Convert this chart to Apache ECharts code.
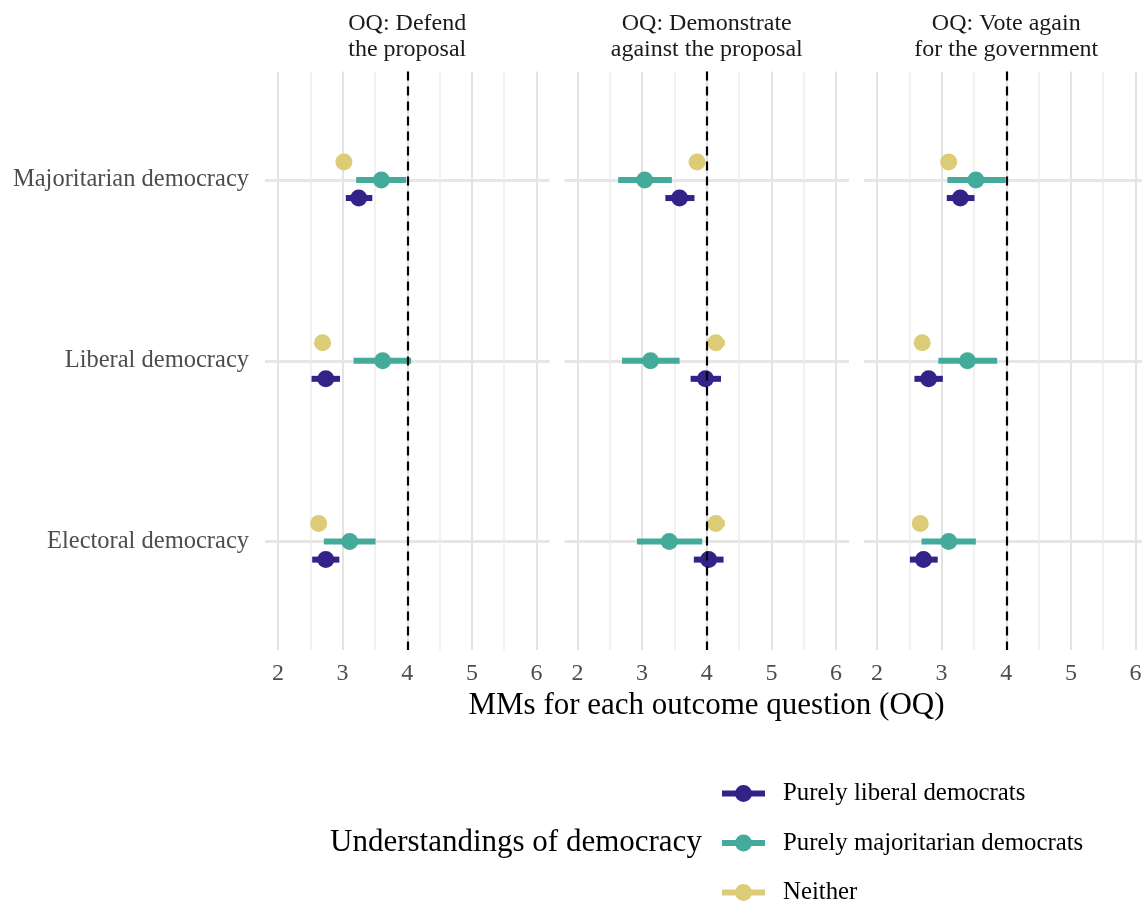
<!DOCTYPE html>
<html><head><meta charset="utf-8">
<script src="https://cdn.jsdelivr.net/npm/echarts@6/dist/echarts.min.js"></script>
<style>html,body{margin:0;padding:0;background:#fff;overflow:hidden}#c{width:1160px;height:904px}</style>
</head><body><div id="c"></div><script>
const categories = ['Majoritarian democracy', 'Liberal democracy', 'Electoral democracy'];
const panelTitles = ['OQ: Defend\nthe proposal', 'OQ: Demonstrate\nagainst the proposal', 'OQ: Vote again\nfor the government'];
const groupNames = ['Purely liberal democrats', 'Purely majoritarian democrats', 'Neither'];
const groupColors = ['#332288', '#44AA99', '#DDCC77'];
const xTicks = [2, 3, 4, 5, 6];
const xMinorTicks = [2.5, 3.5, 4.5, 5.5];
const referenceLine = 4;
// [estimate, lower, upper] for Majoritarian, Liberal, Electoral democracy
const defendLiberal = [[3.25, 3.05, 3.46], [2.74, 2.52, 2.96], [2.74, 2.53, 2.95]];
const defendMajoritarian = [[3.60, 3.21, 3.98], [3.62, 3.17, 4.06], [3.11, 2.71, 3.51]];
const defendNeither = [[3.02, 2.94, 3.10], [2.69, 2.61, 2.77], [2.63, 2.55, 2.71]];
const demonstrateLiberal = [[3.58, 3.36, 3.81], [3.98, 3.75, 4.22], [4.03, 3.80, 4.26]];
const demonstrateMajoritarian = [[3.04, 2.63, 3.46], [3.13, 2.69, 3.58], [3.42, 2.92, 3.93]];
const demonstrateNeither = [[3.85, 3.73, 3.97], [4.14, 4.00, 4.28], [4.14, 4.00, 4.28]];
const voteLiberal = [[3.29, 3.08, 3.51], [2.80, 2.58, 3.02], [2.72, 2.51, 2.94]];
const voteMajoritarian = [[3.53, 3.09, 3.99], [3.40, 2.95, 3.86], [3.11, 2.69, 3.53]];
const voteNeither = [[3.11, 3.03, 3.19], [2.70, 2.62, 2.78], [2.67, 2.59, 2.75]];

const panelData = [
  [defendLiberal, defendMajoritarian, defendNeither],
  [demonstrateLiberal, demonstrateMajoritarian, demonstrateNeither],
  [voteLiberal, voteMajoritarian, voteNeither]
];
const groupOffsets = [0.1, 0, -0.1];
const FONT = '"Liberation Serif", "Times New Roman", serif';
const gridLefts = [265, 564.5, 864];
const gridTop = 71.5, gridW = 284.5, gridH = 578.5;

const chart = echarts.init(document.getElementById('c'), null, {renderer: 'canvas'});

const grids = gridLefts.map(l => ({left: l, top: gridTop, width: gridW, height: gridH}));
const xAxes = [];
gridLefts.forEach((l, i) => {
  xAxes.push({
    gridIndex: i, type: 'value', min: 1.8, max: 6.2,
    axisLine: {show: false}, axisTick: {show: false, customValues: xTicks},
    axisLabel: {customValues: xTicks, margin: 12, color: '#4d4d4d', fontSize: 24, fontFamily: FONT},
    splitLine: {show: true, lineStyle: {color: '#e3e3e3', width: 2}}
  });
});
gridLefts.forEach((l, i) => {
  xAxes.push({
    gridIndex: i, type: 'value', min: 1.8, max: 6.2, position: 'top',
    axisLine: {show: false}, axisTick: {show: false, customValues: xMinorTicks},
    axisLabel: {show: false},
    splitLine: {show: true, lineStyle: {color: '#ececec', width: 1.5}}
  });
});
const yAxes = gridLefts.map((l, i) => ({
  gridIndex: i, type: 'value', min: 0.4, max: 3.6, inverse: true,
  axisLine: {show: false}, axisTick: {show: false, customValues: [1, 2, 3]},
  axisLabel: {show: i === 0, customValues: [1, 2, 3], margin: 16, color: '#4d4d4d', fontSize: 24.5, fontFamily: FONT,
    formatter: v => categories[Math.round(v) - 1]},
  splitLine: {show: true, lineStyle: {color: '#e6e6e6', width: 3}}
}));

const series = [];
panelData.forEach((groups, i) => {
  groups.forEach((rows, g) => {
    const color = groupColors[g];
    series.push({
      type: 'custom', name: groupNames[g], xAxisIndex: i, yAxisIndex: i, z: 3,
      itemStyle: {color: color},
      encode: {x: [0, 1, 2], y: 3},
      data: rows.map((d, c) => [d[0], d[1], d[2], c + 1 + groupOffsets[g]]),
      renderItem: (params, api) => {
        const y = api.value(3);
        const p0 = api.coord([api.value(1), y]);
        const p1 = api.coord([api.value(2), y]);
        const pc = api.coord([api.value(0), y]);
        return {type: 'group', children: [
          {type: 'line', shape: {x1: p0[0], y1: p0[1], x2: p1[0], y2: p1[1]}, style: {stroke: color, lineWidth: 6}},
          {type: 'circle', shape: {cx: pc[0], cy: pc[1], r: 8.5}, style: {fill: color}}
        ]};
      }
    });
  });
  series.push({
    type: 'line', xAxisIndex: i, yAxisIndex: i, data: [], z: 10, silent: true,
    markLine: {silent: true, symbol: 'none', label: {show: false}, animation: false,
      lineStyle: {color: '#000', type: [9, 6], width: 2.2},
      data: [{xAxis: referenceLine}]}
  });
});

const graphics = panelTitles.map((t, i) => ({
  type: 'text', x: gridLefts[i] + gridW / 2, y: 37,
  style: {text: t, textAlign: 'center', textVerticalAlign: 'middle', fill: '#1a1a1a',
    font: 'normal 24px ' + FONT, lineHeight: 26}
}));
graphics.push({type: 'text', x: 706.5, y: 706,
  style: {text: 'MMs for each outcome question (OQ)', textAlign: 'center', textVerticalAlign: 'middle', fill: '#000', font: 'normal 31px ' + FONT}});
graphics.push({type: 'text', x: 330, y: 843,
  style: {text: 'Understandings of democracy', textAlign: 'left', textVerticalAlign: 'middle', fill: '#000', font: 'normal 31px ' + FONT}});

chart.setOption({
  animation: false,
  backgroundColor: '#fff',
  grid: grids, xAxis: xAxes, yAxis: yAxes, series: series,
  legend: {
    data: groupNames, orient: 'vertical', left: 722, top: 781, height: 125, padding: 0,
    itemWidth: 43, itemHeight: 17, itemGap: 24.5,
    icon: 'path://M0,5.5h43v6h-43z M13,8.5a8.5,8.5 0 1,1 17,0a8.5,8.5 0 1,1 -17,0z',
    textStyle: {fontFamily: FONT, fontSize: 24.8, color: '#000', lineHeight: 24, padding: [0, 0, 0, 13]},
    selectedMode: false
  },
  graphic: graphics
});
</script></body></html>
